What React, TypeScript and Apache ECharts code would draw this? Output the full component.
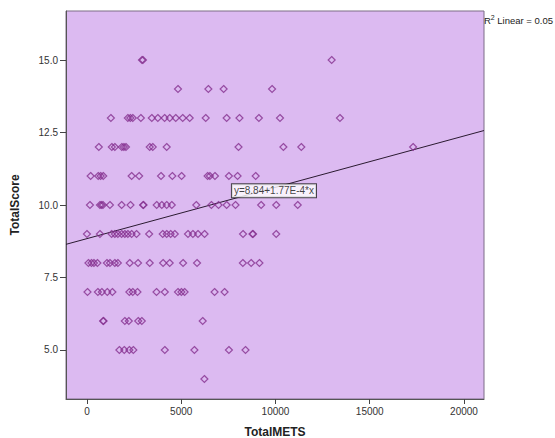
import React, { useEffect, useRef } from "react";
import * as echarts from "echarts";

// TotalMETS values observed at each TotalScore level
const mets15 = [2920, 2970, 12980];
const mets14 = [4830, 6440, 7250, 9820];
const mets13 = [1270, 2170, 2300, 2430, 2860, 3440, 3760, 4120, 4390, 4710, 5080, 5450, 6300, 7410, 8090, 9120, 10240, 13420];
const mets12 = [630, 1320, 1480, 1850, 1960, 2070, 3330, 3490, 4230, 8040, 10420, 11370, 17300];
const mets11 = [196, 600, 727, 865, 2370, 2770, 3930, 4530, 5020, 6400, 6520, 6790, 7530, 7990, 8950];
const mets10 = [160, 690, 770, 850, 1220, 1840, 2310, 2980, 3000, 3700, 3970, 4230, 4500, 5800, 6600, 6980, 7410, 7880, 9240, 10040, 11180];
const mets9 = [0, 690, 1310, 1480, 1640, 1840, 2010, 2170, 2370, 2630, 3300, 4020, 4230, 4440, 4660, 5360, 5620, 5890, 6240, 8280, 8780, 8810, 10040];
const mets8 = [80, 240, 370, 555, 1060, 1220, 1480, 1640, 2270, 2710, 3330, 4040, 4390, 5100, 5840, 8270, 8710, 9150];
const mets7 = [30, 580, 790, 1080, 1350, 2250, 2430, 2680, 3690, 4130, 4830, 5010, 5180, 6770, 7300];
const mets6 = [860, 880, 2010, 2220, 2720, 2910, 6140];
const mets5 = [1720, 1980, 2250, 2460, 4130, 5700, 7530, 8410];
const mets4 = [6230];

const scoreLevels = [15, 14, 13, 12, 11, 10, 9, 8, 7, 6, 5, 4];
const metsByLevel = [mets15, mets14, mets13, mets12, mets11, mets10, mets9, mets8, mets7, mets6, mets5, mets4];

const xTicks = [0, 5000, 10000, 15000, 20000];
const yTicks = [5, 7.5, 10, 12.5, 15];
const xRange = [-1110, 21060];
const yRange = [3.31, 16.69];

// Fit line as printed on the chart: y = 8.84 + 1.77E-4 * x
const intercept = 8.84;
const slope = 1.77e-4;
const fitLabelX = 9920;
const fitLabel = "y=8.84+1.77E-4*x";

export default function App() {
  const ref = useRef<HTMLDivElement>(null);
  useEffect(() => {
    if (!ref.current) return;
    const chart = echarts.init(ref.current, null, { renderer: "svg" });
    const points: number[][] = [];
    scoreLevels.forEach((s, i) => metsByLevel[i].forEach((m) => points.push([m, s])));
    const lineData = xRange.map((x) => [x, intercept + slope * x]);
    const font = "Arial, 'Liberation Sans', sans-serif";
    chart.setOption({
      animation: false,
      grid: {
        left: 66,
        right: 71,
        top: 11,
        bottom: 39,
        outerBoundsMode: "none",
        containLabel: false,
        show: true,
        backgroundColor: "#dcbaf1",
        borderColor: "#7d6c86",
        borderWidth: 1,
      },
      xAxis: {
        type: "value",
        min: xRange[0],
        max: xRange[1],
        name: "TotalMETS",
        nameLocation: "middle",
        nameGap: 27,
        nameTextStyle: { fontFamily: font, fontWeight: "bold", fontSize: 12, color: "#222" },
        splitLine: { show: false },
        axisLine: { show: true, onZero: false, lineStyle: { color: "#555", width: 1 } },
        axisTick: { show: true, length: 5, customValues: xTicks, lineStyle: { color: "#444" } },
        axisLabel: {
          customValues: xTicks,
          fontFamily: font,
          fontSize: 10,
          color: "#333",
          margin: 7,
          formatter: (v: number) => String(v),
        },
      },
      yAxis: {
        type: "value",
        min: yRange[0],
        max: yRange[1],
        name: "TotalScore",
        nameLocation: "middle",
        nameGap: 45,
        nameRotate: 90,
        nameTextStyle: { fontFamily: font, fontWeight: "bold", fontSize: 12, color: "#222" },
        splitLine: { show: false },
        axisLine: { show: true, onZero: false, lineStyle: { color: "#555", width: 1 } },
        axisTick: { show: true, length: 6, customValues: yTicks, lineStyle: { color: "#444" } },
        axisLabel: {
          customValues: yTicks,
          fontFamily: font,
          fontSize: 10,
          color: "#333",
          margin: 8,
          formatter: (v: number) => v.toFixed(1),
        },
      },
      series: [
        {
          type: "scatter",
          data: points,
          symbol: "diamond",
          symbolSize: 7,
          itemStyle: { color: "rgba(0,0,0,0)", borderColor: "#84308f", borderWidth: 1.2 },
          z: 3,
        },
        {
          type: "line",
          data: lineData,
          symbol: "none",
          lineStyle: { color: "#2a1a30", width: 1 },
          z: 2,
        },
        {
          type: "scatter",
          data: [[fitLabelX, intercept + slope * fitLabelX]],
          symbolSize: 0,
          itemStyle: { color: "rgba(0,0,0,0)" },
          label: {
            show: true,
            position: "inside",
            offset: [0, 3],
            formatter: fitLabel,
            fontFamily: font,
            fontSize: 10,
            color: "#111",
            backgroundColor: "#ffffff",
            borderColor: "#222",
            borderWidth: 1,
            padding: [2, 2, 1, 2],
          },
          z: 5,
        },
      ],
      graphic: [
        {
          type: "text",
          right: 2,
          top: 14,
          style: {
            text: "{r|R}{s|2}{r| Linear = 0.05}",
            rich: {
              r: { fontFamily: font, fontSize: 9.5, fill: "#222" },
              s: { fontFamily: font, fontSize: 7, fill: "#222", verticalAlign: "top", padding: [0, 0, 5, 0] },
            },
          },
        },
      ],
    });
    return () => chart.dispose();
  }, []);
  return <div ref={ref} style={{ width: 555, height: 438, position: "absolute", left: 0, top: 0 }} />;
}
